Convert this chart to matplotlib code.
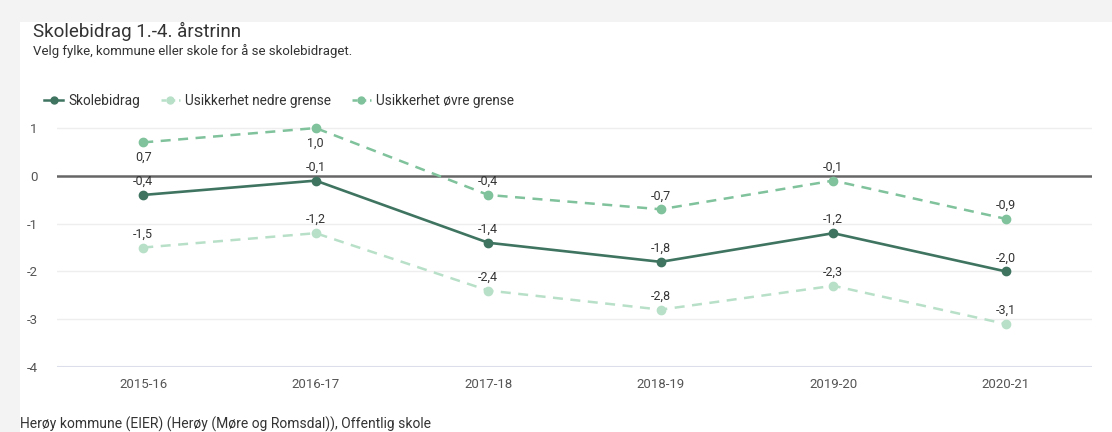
import matplotlib.pyplot as plt
from matplotlib.lines import Line2D
from matplotlib.patches import Rectangle

plt.rcParams['font.family'] = ['Roboto', 'DejaVu Sans']

years = ['2015-16', '2016-17', '2017-18', '2018-19', '2019-20', '2020-21']
skolebidrag = [-0.4, -0.1, -1.4, -1.8, -1.2, -2.0]
nedre = [-1.5, -1.2, -2.4, -2.8, -2.3, -3.1]
ovre = [0.7, 1.0, -0.4, -0.7, -0.1, -0.9]
# labels placed below the point for these (upper series)
ovre_below = [True, True, False, False, False, False]

c_main = '#3f7461'
c_low = '#b8e0c8'
c_up = '#7fc29b'

fig = plt.figure(figsize=(11.12, 4.32), dpi=100)
fig.patch.set_facecolor('#f3f3f3')
fig.patches.append(Rectangle((20 / 1112, 0), 1, 1 - 22 / 432, transform=fig.transFigure,
                             facecolor='white', edgecolor='none', zorder=-10))

ax = fig.add_axes([57 / 1112, 0.1505, (1092 - 57) / 1112, 0.5752])
ax.set_zorder(5)
ax.patch.set_alpha(0)
x = list(range(len(years)))

ax.plot(x, nedre, color=c_low, lw=1.8, ls=(0, (4, 3)), marker='o', ms=6, zorder=3)
ax.plot(x, ovre, color=c_up, lw=1.8, ls=(0, (4, 3)), marker='o', ms=6, zorder=3)
ax.plot(x, skolebidrag, color=c_main, lw=1.9, marker='o', ms=6, zorder=4)

def fmt(v):
    return ('%.1f' % v).replace('.', ',')

lab_kw = dict(textcoords='offset points', ha='center', fontsize=9, color='#333333', zorder=5)
for i in x:
    ax.annotate(fmt(skolebidrag[i]), (i, skolebidrag[i]), xytext=(0, 5), va='bottom', **lab_kw)
    ax.annotate(fmt(nedre[i]), (i, nedre[i]), xytext=(0, 5), va='bottom', **lab_kw)
    if ovre_below[i]:
        ax.annotate(fmt(ovre[i]), (i, ovre[i]), xytext=(0, -6), va='top', **lab_kw)
    else:
        ax.annotate(fmt(ovre[i]), (i, ovre[i]), xytext=(0, 5), va='bottom', **lab_kw)

ax.set_xlim(-0.5, 5.5)
ax.set_ylim(-4, 1.2)
ax.set_yticks([1, 0, -1, -2, -3, -4])
ax.set_yticklabels(['1', '0', '-1', '-2', '-3', '-4'])
ax.set_xticks(x)
ax.set_xticklabels(years)
for y in [1, -1, -2, -3]:
    ax.axhline(y, color='#eeeeee', lw=1, zorder=1)
ax.axhline(-4, color='#dcdfeb', lw=1.5, zorder=1)
ax.axhline(0, color='#666666', lw=1.8, zorder=2)

for s in ax.spines.values():
    s.set_visible(False)
ax.tick_params(length=0, labelsize=9.5, labelcolor='#555555')
ax.tick_params(axis='y', pad=14)
ax.tick_params(axis='x', pad=8)

fig.text(33 / 1112, 1 - 31 / 432, 'Skolebidrag 1.-4. årstrinn', fontsize=13.5, color='#333333',
         va='center', ha='left')
fig.text(33 / 1112, 1 - 51 / 432, 'Velg fylke, kommune eller skole for å se skolebidraget.',
         fontsize=9.5, color='#333333', va='center', ha='left')
fig.text(20 / 1112, 1 - 424 / 432, 'Herøy kommune (EIER) (Herøy (Møre og Romsdal)), Offentlig skole',
         fontsize=10, color='#333333', va='center', ha='left')

handles = [
    Line2D([], [], color=c_main, lw=1.8, marker='o', ms=5),
    Line2D([], [], color=c_low, lw=1.8, ls=(0, (2, 1.5)), marker='o', ms=5),
    Line2D([], [], color=c_up, lw=1.8, ls=(0, (2, 1.5)), marker='o', ms=5),
]
fig.legend(handles, ['Skolebidrag', 'Usikkerhet nedre grense', 'Usikkerhet øvre grense'],
           loc='center left', bbox_to_anchor=(32 / 1112, 1 - 101 / 432), ncol=3, frameon=False,
           fontsize=9.8, handlelength=1.4, handletextpad=0.4, columnspacing=1.5,
           labelcolor='#333333')

fig.savefig('out.png', dpi=100, facecolor=fig.get_facecolor())
